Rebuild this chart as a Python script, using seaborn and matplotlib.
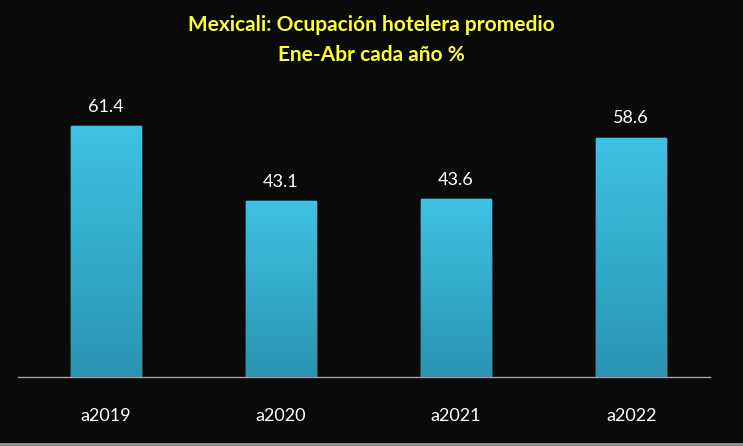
import numpy as np
import pandas as pd
import matplotlib
matplotlib.use("Agg")
import matplotlib.pyplot as plt
from matplotlib.colors import LinearSegmentedColormap
import seaborn as sns

years = ["a2019", "a2020", "a2021", "a2022"]
occupancy = [61.4, 43.1, 43.6, 58.6]

df = pd.DataFrame({"year": years, "occ": occupancy})

sns.set_theme(style="dark")
plt.rcParams["font.family"] = ["Lato", "DejaVu Sans"]

fig = plt.figure(figsize=(7.43, 4.46), dpi=100, facecolor="#0a0a0a")
ax = fig.add_axes([18 / 743, (446 - 377) / 446, 692 / 743, 286 / 446])
ax.set_facecolor("#0a0a0a")

sns.barplot(data=df, x="year", y="occ", color="#3bbde0", width=0.4,
            saturation=1, ax=ax)

# vertical gradient on each bar
cmap = LinearSegmentedColormap.from_list("bar", ["#2a94b2", "#3ec2e4"])
grad = np.linspace(0, 1, 256).reshape(-1, 1)
for p in ax.patches:
    x0, y0 = p.get_x(), p.get_y()
    w, h = p.get_width(), p.get_height()
    im = ax.imshow(grad, cmap=cmap, origin="lower", aspect="auto",
                   extent=[x0, x0 + w, y0, y0 + h], zorder=3)
    im.set_clip_path(p)
    ax.annotate(f"{h:.1f}", (x0 + w / 2, h), xytext=(0, 8),
                textcoords="offset points", ha="center", va="bottom",
                color="white", fontsize=13)

ax.set_xlim(-0.5, 3.45)
ax.set_ylim(0, 70)
ax.set_xlabel("")
ax.set_ylabel("")
ax.set_yticks([])
ax.tick_params(axis="x", colors="white", labelsize=13, length=0, pad=22)
for s in ["top", "right", "left"]:
    ax.spines[s].set_visible(False)
ax.spines["bottom"].set_color("#a0a0a0")
ax.spines["bottom"].set_linewidth(1)
ax.grid(False)

fig.text(0.5, 25 / 446, "", color="yellow")
fig.text(0.5, 1 - 25 / 446, "Mexicali: Ocupación hotelera promedio",
         ha="center", va="center", color="#ffff33", fontsize=15, fontweight="bold")
fig.text(0.5, 1 - 55 / 446, "Ene-Abr cada año %",
         ha="center", va="center", color="#ffff33", fontsize=15, fontweight="bold")

# light bottom border like the reference frame
fig.add_artist(plt.Line2D([0, 1], [2 / 446, 2 / 446], color="#9a9a9a", lw=2,
                          transform=fig.transFigure))

fig.savefig("out.png", dpi=100, facecolor=fig.get_facecolor())
